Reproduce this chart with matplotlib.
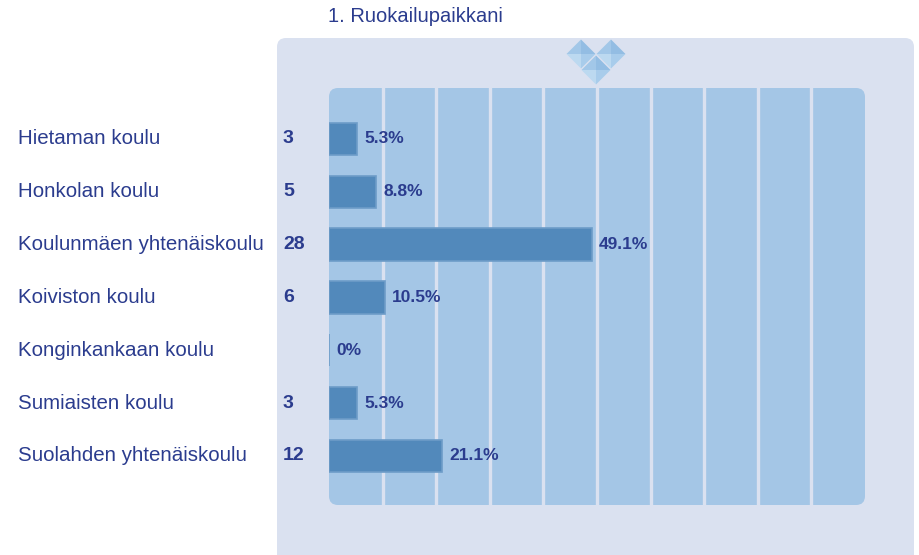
import matplotlib.pyplot as plt
from matplotlib.patches import FancyBboxPatch, Polygon

# chart data
schools = ["Hietaman koulu", "Honkolan koulu", "Koulunmäen yhtenäiskoulu",
           "Koiviston koulu", "Konginkankaan koulu", "Sumiaisten koulu",
           "Suolahden yhtenäiskoulu"]
counts = [3, 5, 28, 6, 0, 3, 12]
percents = [5.3, 8.8, 49.1, 10.5, 0.0, 5.3, 21.1]
pct_labels = ["5.3%", "8.8%", "49.1%", "10.5%", "0%", "5.3%", "21.1%"]
title = "1. Ruokailupaikkani"

W, H = 919, 555
text_col = "#2b3c8e"
bar_col = "#5289bb"
col_bg = "#a4c6e6"
panel_bg = "#dae1f0"

plt.rcParams["font.family"] = ["Liberation Sans", "DejaVu Sans"]

fig = plt.figure(figsize=(W / 100, H / 100), dpi=100)

# background layer in pixel coordinates
bg = fig.add_axes([0, 0, 1, 1])
bg.set_xlim(0, W)
bg.set_ylim(H, 0)
bg.axis("off")

bg.add_patch(FancyBboxPatch((277, 38), 637, 560, boxstyle="round,pad=0,rounding_size=9",
                            fc=panel_bg, ec="none"))
bg.add_patch(FancyBboxPatch((329, 88), 536, 417, boxstyle="round,pad=0,rounding_size=9",
                            fc=col_bg, ec="none"))

# decoration: three pyramid-shaded diamonds
r = 14.5
faces = ["#a2c7e8", "#93bde3", "#a8cceb", "#bcd9f0"]  # tl, tr, br, bl
for cx, cy in [(581, 54), (611, 54), (596, 70)]:
    top, rt, bot, lf, c = (cx, cy - r), (cx + r, cy), (cx, cy + r), (cx - r, cy), (cx, cy)
    for pts, fc in zip([[lf, top, c], [top, rt, c], [rt, bot, c], [bot, lf, c]], faces):
        bg.add_patch(Polygon(pts, fc=fc, ec="none"))

bg.text(328, 17, title, fontsize=14.5, color=text_col, va="center", ha="left")

# data axes
ax = fig.add_axes([329 / W, (H - 505) / H, 536 / W, 417 / H])
ax.patch.set_alpha(0)
ax.set_xlim(0, 100)
ax.set_ylim(6.93, -0.965)
for x in range(10, 100, 10):
    ax.axvline(x, color=panel_bg, lw=2.4, zorder=1)

ys = list(range(len(schools)))
ax.barh(ys, percents, height=0.61, color=bar_col, edgecolor="#6d9cc8",
        linewidth=1.2, zorder=3)

for y, p, lab, n, name in zip(ys, percents, pct_labels, counts, schools):
    ax.text(p + 1.3, y, lab, fontsize=12.5, fontweight="bold", color=text_col,
            family=["Liberation Sans Narrow", "Liberation Sans"],
            va="center", ha="left", zorder=4)
    fy = (88 + (y + 0.965) * 52.83) / H
    fig.text(18 / W, 1 - fy, name, fontsize=14.8, color=text_col, va="center", ha="left")
    if n > 0:
        fig.text(283 / W, 1 - fy, str(n), fontsize=14, fontweight="bold",
                 color=text_col, va="center", ha="left")

ax.axis("off")

fig.savefig("out.png", dpi=100)
